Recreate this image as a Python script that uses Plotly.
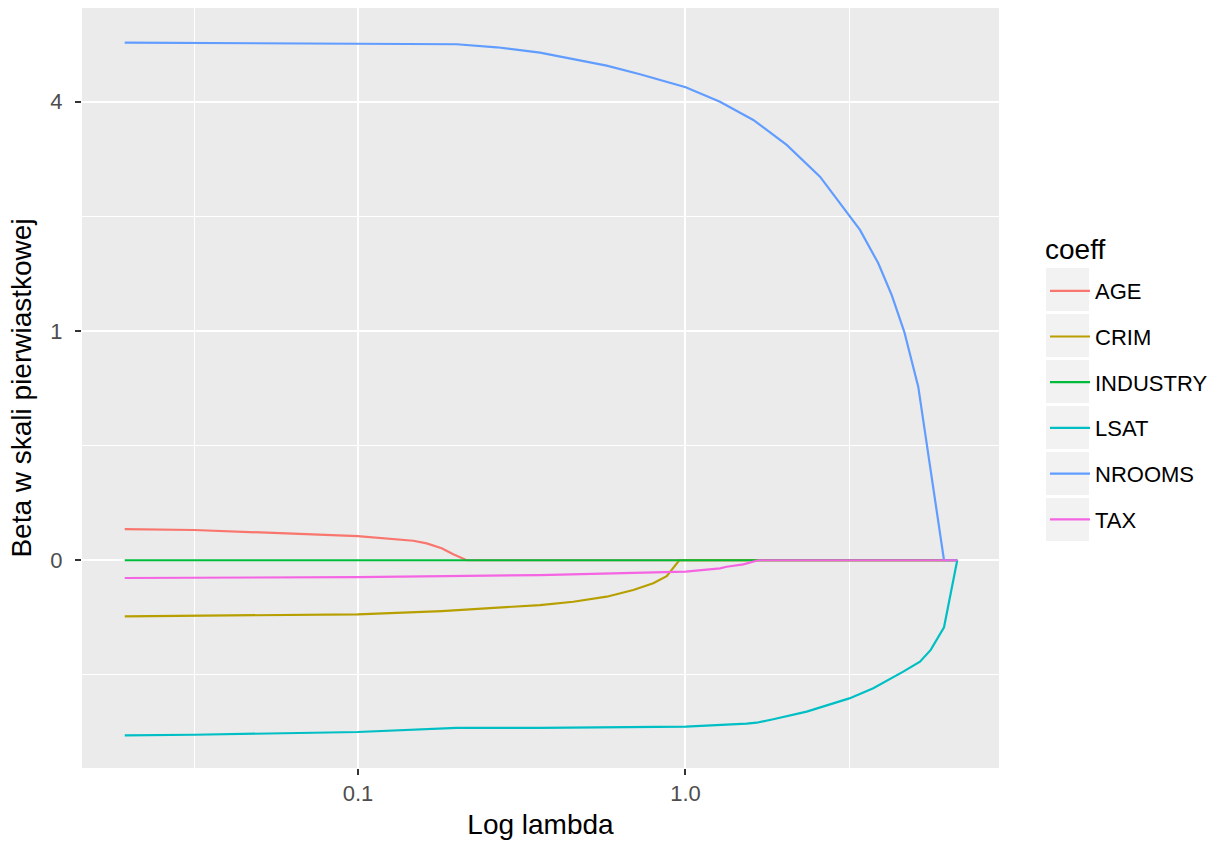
import numpy as np
import plotly.graph_objects as go

# ---- data (lambda, beta) ----
age_lam = [0.0194, 0.0316, 0.0998, 0.1475, 0.1621, 0.1801, 0.1954, 0.2147, 6.758]
age_beta = [0.0185, 0.0174, 0.0111, 0.0072, 0.0054, 0.0027, 0.0007, 0.0, 0.0]

crim_lam = [0.0194, 0.0998, 0.1801, 0.3594, 0.4544, 0.5745, 0.6929, 0.7971, 0.8762, 0.9574, 6.758]
crim_beta = [-0.0599, -0.0557, -0.0491, -0.0382, -0.0328, -0.0253, -0.0169, -0.0101, -0.0048, 0.0, 0.0]

industry_lam = [0.0194, 6.758]
industry_beta = [0.0, 0.0]

lsat_lam = [0.0194, 0.0316, 0.0998, 0.2001, 0.3594, 1.0014, 1.5377, 1.650, 1.8538, 2.3447,
            3.1637, 3.7447, 4.6238, 5.200, 5.6079, 6.1574, 6.7577]
lsat_beta = [-0.583, -0.579, -0.561, -0.534, -0.534, -0.527, -0.508, -0.502, -0.481, -0.436,
             -0.363, -0.312, -0.236, -0.196, -0.153, -0.0856, 0.0]

nrooms_lam = [0.0194, 0.2001, 0.2652, 0.3594, 0.5745, 0.7264, 1.0014, 1.2743, 1.6108, 2.0372,
              2.5746, 2.9631, 3.4104, 3.8788, 4.2634, 4.6568, 5.1369, 6.1574, 6.7577]
nrooms_beta = [5.094, 5.062, 5.003, 4.899, 4.651, 4.490, 4.253, 3.998, 3.686, 3.279,
               2.797, 2.423, 2.074, 1.677, 1.336, 0.992, 0.573, 0.0, 0.0]

tax_lam = [0.0194, 0.0998, 0.3594, 1.0014, 1.2743, 1.3357, 1.5014, 1.6684, 6.758]
tax_beta = [-0.0060, -0.0054, -0.0042, -0.0025, -0.00125, -0.0008, -0.00032, 0.0, 0.0]

series_names = ["AGE", "CRIM", "INDUSTRY", "LSAT", "NROOMS", "TAX"]
series_colors = ["#F8766D", "#B79F00", "#00BA38", "#00BFC4", "#619CFF", "#F564E3"]

x_tick_vals = [0.1, 1.0]
x_tick_text = ["0.1", "1.0"]
y_tick_vals = [0, 1, 4]
y_tick_text = ["0", "1", "4"]


def sqrt_scale(v):
    v = np.asarray(v, dtype=float)
    return np.sign(v) * np.sqrt(np.abs(v))


data = [
    (age_lam, age_beta), (crim_lam, crim_beta), (industry_lam, industry_beta),
    (lsat_lam, lsat_beta), (nrooms_lam, nrooms_beta), (tax_lam, tax_beta),
]

fig = go.Figure()
for (lam, beta), name, col in zip(data, series_names, series_colors):
    fig.add_trace(go.Scatter(
        x=lam, y=sqrt_scale(beta), mode="lines", name=name,
        line=dict(color=col, width=2.2), legendgroup=name,
    ))

FONT = "Liberation Sans, Arial, sans-serif"

# grey legend key backgrounds (ggplot style)
L, R, T, B = 82, 999, 8, 768
W, H = R - L, B - T
for i in range(6):
    top = 268 + 46 * i
    fig.add_shape(type="rect", xref="paper", yref="paper",
                  x0=(1046 - L) / W, x1=(1089 - L) / W,
                  y0=(B - (top + 43)) / H, y1=(B - top) / H,
                  fillcolor="#F2F2F2", line=dict(width=0), layer="below")

fig.add_annotation(text="coeff", xref="paper", yref="paper",
                   x=(1043 - L) / W, y=(B - 232) / H, xanchor="left", yanchor="top",
                   showarrow=False, font=dict(size=28, color="black"))

fig.update_layout(
    width=1225, height=845,
    margin=dict(l=L, r=1225 - R, t=T, b=845 - B),
    paper_bgcolor="white", plot_bgcolor="#EBEBEB",
    font=dict(family=FONT, color="#000000"),
    legend=dict(
        font=dict(size=22, color="black"),
        x=(1045 - L) / W, xanchor="left", y=(B - 270) / H, yanchor="top",
        tracegroupgap=14.1, bgcolor="rgba(0,0,0,0)", itemwidth=40,
    ),
    xaxis=dict(
        type="log", range=[-1.8427, 0.9573],
        tickvals=x_tick_vals, ticktext=x_tick_text,
        ticks="outside", ticklen=6, tickcolor="#333333", tickwidth=2,
        tickfont=dict(size=22, color="#4D4D4D"),
        showgrid=True, gridcolor="white", gridwidth=2, zeroline=False, showline=False,
        minor=dict(tickvals=[10 ** -1.5, 10 ** 0.5], showgrid=True, gridcolor="white",
                   gridwidth=1, ticks=""),
        title=dict(text="Log lambda", font=dict(size=28, color="black"), standoff=8),
    ),
    yaxis=dict(
        range=[-0.906, 2.408],
        tickvals=sqrt_scale(y_tick_vals), ticktext=y_tick_text,
        ticks="outside", ticklen=6, tickcolor="#333333", tickwidth=2,
        tickfont=dict(size=22, color="#4D4D4D"), ticklabelstandoff=8,
        showgrid=True, gridcolor="white", gridwidth=2, zeroline=False, showline=False,
        minor=dict(tickvals=[-0.5, 0.5, 1.5], showgrid=True, gridcolor="white",
                   gridwidth=1, ticks=""),
        title=dict(text="Beta w skali pierwiastkowej", font=dict(size=28, color="black"),
                   standoff=10),
    ),
)

fig.write_html("out.html")
